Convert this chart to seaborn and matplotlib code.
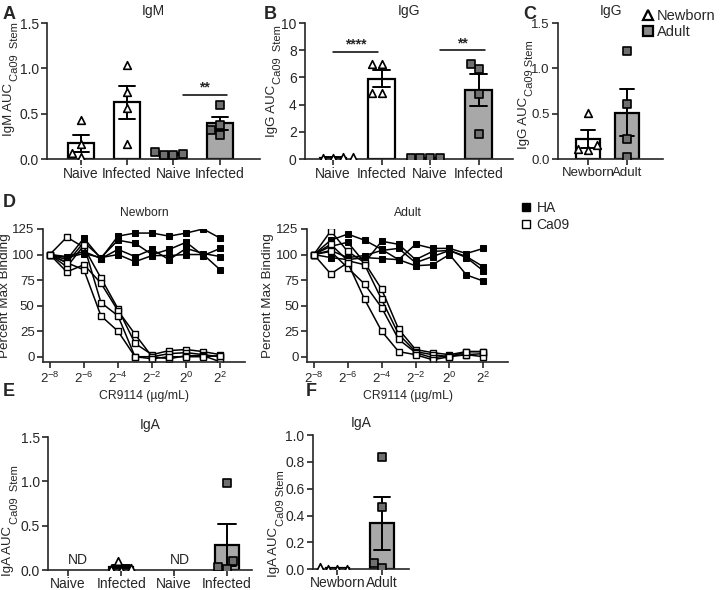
import matplotlib
matplotlib.use('Agg')
import matplotlib.pyplot as plt
from matplotlib.lines import Line2D
import pandas as pd
import seaborn as sns

sns.set_style('ticks')
plt.rcParams['font.family'] = ['Liberation Sans', 'DejaVu Sans']
plt.rcParams['mathtext.fontset'] = 'custom'
plt.rcParams['mathtext.rm'] = 'Liberation Sans'
plt.rcParams['mathtext.it'] = 'Liberation Sans:italic'
plt.rcParams['axes.linewidth'] = 1.2
plt.rcParams['xtick.major.width'] = 1.2
plt.rcParams['ytick.major.width'] = 1.2
plt.rcParams['xtick.major.size'] = 4
plt.rcParams['ytick.major.size'] = 4
plt.rcParams['xtick.major.pad'] = 2
plt.rcParams['ytick.major.pad'] = 2
plt.rcParams['font.size'] = 10

# Data
groups = ['Naive N', 'Infected N', 'Naive A', 'Infected A']
group_labels = ['Naive', 'Infected', 'Naive', 'Infected']
group_ages = ['Newborn', 'Newborn', 'Adult', 'Adult']

igm_values = [
    [0.43, 0.17, 0.07, 0.02],
    [1.04, 0.735, 0.56, 0.16],
    [0.05, 0.08, 0.045, 0.045],
    [0.60, 0.38, 0.32, 0.27],
]
igg_values = [
    [0.05, 0.12, 0.15, 0.10],
    [6.95, 6.95, 4.88, 4.88],
    [0.06, 0.10, 0.08, 0.06],
    [6.6, 7.0, 4.78, 1.83],
]
iga_values = [
    [],
    [0.10, 0.02, 0.01, 0.0],
    [],
    [0.98, 0.10, 0.015, 0.04],
]

age_groups = ['Newborn', 'Adult']
igg_age_values = [[0.51, 0.15, 0.11, 0.10], [1.19, 0.61, 0.22, 0.02]]
iga_age_values = [[0.02, 0.0, 0.005, 0.0], [0.836, 0.467, 0.05, 0.01]]

# CR9114 dilution series, exponents of 2 (ug/mL)
conc_exp = [-8, -7, -6, -5, -4, -3, -2, -1, 0, 1, 2]
newborn_ha = [
    [100, 95, 116, 96, 118, 121, 121, 118, 121, 125, 116],
    [100, 92, 112, 97, 114, 111, 100, 105, 112, 99, 106],
    [100, 98, 103, 96, 105, 98, 105, 95, 106, 101, 98],
    [100, 97, 101, 97, 100, 93, 99, 99, 100, 100, 85],
]
newborn_ca09 = [
    [100, 117, 107, 77, 47, 13, 2, 6, 7, 5, 2],
    [100, 83, 90, 72, 45, 22, 0, 3, 4, 2, 0],
    [100, 88, 109, 53, 40, 0, 0, -2, 1, 1, -5],
    [100, 92, 85, 40, 25, 0, -2, 0, 0, 0, 1],
]
adult_ha = [
    [100, 114, 120, 114, 105, 95, 110, 106, 106, 101, 106],
    [100, 108, 112, 92, 113, 110, 95, 103, 104, 98, 88],
    [100, 104, 97, 99, 104, 106, 92, 98, 104, 97, 84],
    [100, 97, 95, 97, 96, 95, 89, 90, 100, 80, 74],
]
adult_ca09 = [
    [100, 123, 103, 92, 66, 27, 7, 4, 2, 5, 5],
    [100, 110, 94, 90, 56, 22, 5, 2, 0, 2, 3],
    [100, 103, 87, 71, 48, 17, 4, -1, 1, 2, 0],
    [100, 81, 92, 56, 25, 5, 2, -3, 0, 5, 5],
]

bar_colors = {'Newborn': 'white', 'Adult': '#a8a8a8'}
point_style = {'Newborn': ('^', 'white'), 'Adult': ('s', '#6f6f6f')}


def bar_panel(ax, order, values, ages, width, labelsize=10):
    rows = []
    for g, vals, age in zip(order, values, ages):
        for v in vals:
            rows.append({'group': g, 'value': v, 'age': age})
    df = pd.DataFrame(rows)
    sns.barplot(data=df, x='group', y='value', hue='age', order=order,
                hue_order=['Newborn', 'Adult'], palette=bar_colors, dodge=False,
                width=width, errorbar='se', capsize=0.35,
                err_kws={'color': 'black', 'linewidth': 1.4},
                edgecolor='black', linewidth=1.6, legend=False, ax=ax)
    for age in ['Newborn', 'Adult']:
        sub = df[df['age'] == age]
        if len(sub) == 0:
            continue
        marker, color = point_style[age]
        sns.swarmplot(data=sub, x='group', y='value', order=order, marker=marker,
                      color=color, edgecolor='black', linewidth=1.2, size=5.5,
                      ax=ax, zorder=3)
    sns.despine(ax=ax)
    ax.set_xlabel('')
    ax.set_ylabel('')
    ax.tick_params(labelsize=labelsize)


def auc_label(ax, main, sub, x, y):
    # y-axis label with a large subscript, as in the original figure
    t = ax.text(x, y, main, transform=ax.transAxes, rotation=90,
                rotation_mode='anchor', ha='left', va='baseline', fontsize=9.5)
    ax.annotate(sub, xy=(x, 1), xycoords=(ax.transAxes, t), xytext=(4.5, 1),
                textcoords='offset points', rotation=90, rotation_mode='anchor',
                ha='left', va='baseline', fontsize=8)


def sig(ax, x1, x2, y, text):
    ax.plot([x1, x2], [y, y], color='black', lw=1.1)
    ax.text((x1 + x2) / 2, y, text, ha='center', va='bottom', fontsize=10,
            fontweight='bold')


def dose_panel(ax, ha_lines, ca_lines, title, label_x):
    rows = []
    for name, lines in [('HA', ha_lines), ('Ca09', ca_lines)]:
        for i, line in enumerate(lines):
            for e, v in zip(conc_exp, line):
                rows.append({'antigen': name, 'rep': i, 'conc': 2.0 ** e, 'value': v})
    df = pd.DataFrame(rows)
    sns.lineplot(data=df[df['antigen'] == 'HA'], x='conc', y='value', units='rep',
                 estimator=None, color='black', marker='s', markersize=5,
                 markerfacecolor='black', markeredgecolor='black', linewidth=1.1, ax=ax)
    sns.lineplot(data=df[df['antigen'] == 'Ca09'], x='conc', y='value', units='rep',
                 estimator=None, color='black', marker='s', markersize=5,
                 markerfacecolor='white', markeredgecolor='black',
                 markeredgewidth=1.0, linewidth=1.1, ax=ax)
    ax.set_xscale('log', base=2)
    ticks = [2.0 ** e for e in [-8, -6, -4, -2, 0, 2]]
    ax.set_xticks(ticks)
    ax.set_xticklabels([r'$2^{%d}$' % e for e in [-8, -6, -4, -2, 0, 2]])
    ax.minorticks_off()
    ax.set_xlim(2 ** -8.4, 2 ** 3.45)
    ax.set_ylim(-5.2, 125)
    ax.set_yticks([0, 25, 50, 75, 100, 125])
    ax.tick_params(labelsize=9.5)
    ax.set_xlabel('CR9114 (\u00b5g/mL)', fontsize=8.8, labelpad=3)
    ax.set_ylabel('Percent Max Binding', fontsize=9.7)
    ax.yaxis.set_label_coords(label_x, 0.5)
    ax.set_title(title, pad=9, fontsize=8.7)
    sns.despine(ax=ax)


fig = plt.figure(figsize=(7.21, 5.90), dpi=100)

# A
axA = fig.add_axes([0.0652, 0.7305, 0.2954, 0.2305])
bar_panel(axA, groups, igm_values, group_ages, 0.56)
axA.set_xlim(-0.73, 3.87)
axA.set_ylim(0, 1.5)
axA.set_yticks([0, 0.5, 1.0, 1.5])
axA.set_xticks(range(4))
axA.set_xticklabels(group_labels)
auc_label(axA, 'IgM AUC', 'Ca09  Stem', -0.165, 0.17)
axA.set_title('IgM', pad=6, fontsize=10)
sig(axA, 2.2, 3.15, 0.71, '**')

# B
axB = fig.add_axes([0.423, 0.7305, 0.2885, 0.2305])
bar_panel(axB, groups, igg_values, group_ages, 0.55)
axB.set_xlim(-0.58, 3.71)
axB.set_ylim(0, 10)
axB.set_yticks([0, 2, 4, 6, 8, 10])
axB.set_xticks(range(4))
axB.set_xticklabels(group_labels)
auc_label(axB, 'IgG AUC', 'Ca09  Stem', -0.145, 0.16)
axB.set_title('IgG', pad=6, fontsize=10)
sig(axB, 0.0, 0.93, 7.9, '****')
sig(axB, 2.2, 3.13, 8.0, '**')

# C
axC = fig.add_axes([0.774, 0.7305, 0.1456, 0.2305])
bar_panel(axC, age_groups, igg_age_values, age_groups, 0.63, labelsize=9.5)
axC.set_xlim(-0.77, 1.92)
axC.set_ylim(0, 1.5)
axC.set_yticks([0, 0.5, 1.0, 1.5])
auc_label(axC, 'IgG AUC', 'Ca09 Stem', -0.30, 0.07)
axC.set_title('IgG', pad=6, fontsize=10)
legC = [Line2D([], [], marker='^', color='none', markerfacecolor='white',
               markeredgecolor='black', markeredgewidth=1.6, markersize=7.5, label='Newborn'),
        Line2D([], [], marker='s', color='none', markerfacecolor='#8a8a8a',
               markeredgecolor='black', markeredgewidth=1.6, markersize=7.5, label='Adult')]
fig.legend(handles=legC, loc='upper left', bbox_to_anchor=(0.892, 0.984), frameon=False,
           handlelength=0.6, handletextpad=0.35, labelspacing=0.1, fontsize=10.5,
           borderaxespad=0, borderpad=0)

# D
axD1 = fig.add_axes([0.0596, 0.3864, 0.2802, 0.2255])
dose_panel(axD1, newborn_ha, newborn_ca09, 'Newborn', -0.158)
axD2 = fig.add_axes([0.4258, 0.3864, 0.2788, 0.2255])
dose_panel(axD2, adult_ha, adult_ca09, 'Adult', -0.164)
legD = [Line2D([], [], marker='s', color='none', markerfacecolor='black',
               markeredgecolor='black', markersize=6, label='HA'),
        Line2D([], [], marker='s', color='none', markerfacecolor='white',
               markeredgecolor='black', markersize=6, label='Ca09')]
fig.legend(handles=legD, loc='upper left', bbox_to_anchor=(0.724, 0.66), frameon=False,
           handlelength=0.6, handletextpad=0.45, labelspacing=0.25, fontsize=10,
           borderaxespad=0, borderpad=0)

# E
axE = fig.add_axes([0.0666, 0.0335, 0.2829, 0.2258])
bar_panel(axE, groups, iga_values, group_ages, 0.45)
axE.set_xlim(-0.38, 3.47)
axE.set_ylim(0, 1.5)
axE.set_yticks([0, 0.5, 1.0, 1.5])
axE.set_xticks(range(4))
axE.set_xticklabels(group_labels)
axE.tick_params(axis='x', pad=1)
auc_label(axE, 'IgA AUC', 'Ca09  Stem', -0.18, -0.04)
axE.set_title('IgA', pad=6, fontsize=10)
for x in [0.19, 2.11]:
    axE.text(x, 0.04, 'ND', ha='center', va='bottom', fontsize=10)

# F
axF = fig.add_axes([0.434, 0.0352, 0.1331, 0.2275])
bar_panel(axF, age_groups, iga_age_values, age_groups, 0.53)
axF.set_xlim(-0.55, 1.6)
axF.set_ylim(0, 1.0)
axF.set_yticks([0, 0.2, 0.4, 0.6, 0.8, 1.0])
axF.tick_params(axis='x', pad=1)
auc_label(axF, 'IgA AUC', 'Ca09 Stem', -0.37, -0.06)
axF.set_title('IgA', pad=6, fontsize=10)

# panel letters
for letter, x, y in [('A', 0.003, 0.99), ('B', 0.366, 0.99), ('C', 0.726, 0.99),
                     ('D', 0.004, 0.672), ('E', 0.004, 0.35), ('F', 0.424, 0.35)]:
    fig.text(x, y, letter, fontsize=13, fontweight='bold', va='top', ha='left')

fig.savefig('out.png', dpi=100)
